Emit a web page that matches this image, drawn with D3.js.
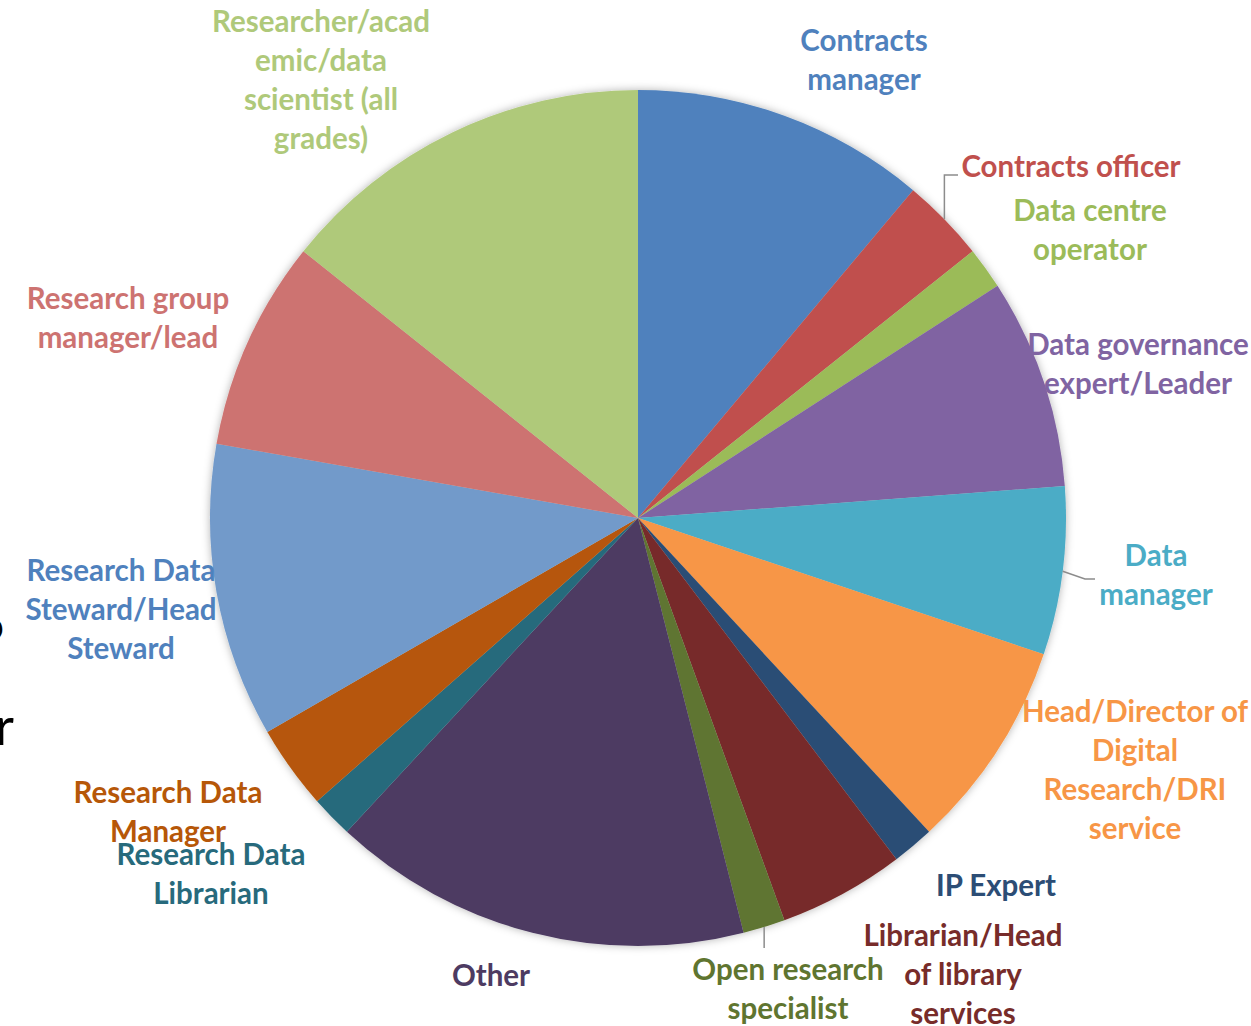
<!DOCTYPE html>
<html>
<head>
<meta charset="utf-8">
<script src="https://cdn.jsdelivr.net/npm/d3@7"></script>
<style>
  body { margin: 0; background: #fff; }
  svg { display: block; }
  .lbl { font-family: Lato, "Open Sans", sans-serif; font-weight: bold; font-size: 29.5px; }
</style>
</head>
<body>
<div id="chart"></div>
<script>
// role categories and number of responses (clockwise from 12 o'clock)
const roles = [
    "Contracts manager", "Contracts officer", "Data centre operator",
    "Data governance expert/Leader", "Data manager", "Head/Director of Digital Research/DRI service",
    "IP Expert", "Librarian/Head of library services", "Open research specialist", "Other",
    "Research Data Librarian", "Research Data Manager", "Research Data Steward/Head Steward",
    "Research group manager/lead", "Researcher/academic/data scientist (all grades)"
];
const counts = [7, 2, 1, 5, 4, 5, 1, 3, 1, 10, 1, 2, 7, 5, 9];
const sliceColors = [
    "#4F81BD", "#C0504D", "#9BBB59", "#8064A2", "#4BACC6", "#F79646",
    "#2C4D75", "#772C2A", "#5F7530", "#4D3B62", "#276A7C", "#B65708",
    "#729ACA", "#CD7371", "#AFC97A"
];
// label text as wrapped on the slide
const labelLines = [
    ["Contracts", "manager"],
    ["Contracts officer"],
    ["Data centre", "operator"],
    ["Data governance", "expert/Leader"],
    ["Data", "manager"],
    ["Head/Director of", "Digital", "Research/DRI", "service"],
    ["IP Expert"],
    ["Librarian/Head", "of library", "services"],
    ["Open research", "specialist"],
    ["Other"],
    ["Research Data", "Librarian"],
    ["Research Data", "Manager"],
    ["Research Data", "Steward/Head", "Steward"],
    ["Research group", "manager/lead"],
    ["Researcher/acad", "emic/data", "scientist (all", "grades)"]
];
const labelColors = [
    "#4F81BD", "#C0504D", "#9BBB59", "#8064A2", "#4BACC6", "#F79646",
    "#2C4D75", "#772C2A", "#5F7530", "#4D3B62", "#276A7C", "#B65708",
    "#4F81BD", "#CD7371", "#AFC97A"
];

const width = 1251, height = 1026;
const cx = 638, cy = 518, radius = 428;
const lineGap = 39;

// where each label block sits (centre x, first line centre y)
const labelPos = [
    [864, 40], [1071, 166], [1090, 210], [1138, 344], [1156, 555], [1135, 711],
    [996, 885], [963, 935], [788, 969], [491, 975], [211, 854], [168, 792],
    [121, 570], [128, 298], [321, 21]
];

const svg = d3.select("#chart")
    .append("svg")
    .attr("width", width)
    .attr("height", height);

const defs = svg.append("defs");
const shadow = defs.append("filter").attr("id", "glow")
    .attr("x", "-10%").attr("y", "-10%").attr("width", "120%").attr("height", "120%");
shadow.append("feDropShadow")
    .attr("dx", 0).attr("dy", 0)
    .attr("stdDeviation", 4)
    .attr("flood-color", "#000")
    .attr("flood-opacity", 0.3);

const data = roles.map((r, i) => ({ role: r, count: counts[i], i: i }));

const pie = d3.pie().sort(null).value(d => d.count);
const arc = d3.arc().innerRadius(0).outerRadius(radius);
const arcs = pie(data);

const g = svg.append("g")
    .attr("transform", "translate(" + cx + "," + cy + ")");

g.append("g")
    .attr("filter", "url(#glow)")
    .selectAll("path")
    .data(arcs)
    .enter()
    .append("path")
    .attr("d", arc)
    .attr("fill", d => sliceColors[d.data.i]);

// leader lines for the labels that sit away from their slice
function edgePoint(d, r) {
    const a = (d.startAngle + d.endAngle) / 2;
    return [cx + r * Math.sin(a), cy - r * Math.cos(a)];
}
const leaders = [
    { i: 1, pts: p => [p, [p[0], 175], [958, 175]] },
    { i: 4, pts: p => [p, [1085, 579], [1095, 579]] },
    { i: 8, pts: p => [p, [p[0], 948]] }
];
leaders.forEach(l => {
    const p = edgePoint(arcs[l.i], radius);
    svg.append("path")
        .attr("d", d3.line()(l.pts(p)))
        .attr("fill", "none")
        .attr("stroke", "#8c8c8c")
        .attr("stroke-width", 1.5);
});

// labels
labelLines.forEach((lines, i) => {
    const t = svg.append("text")
        .attr("class", "lbl")
        .attr("text-anchor", "middle")
        .attr("fill", labelColors[i]);
    lines.forEach((s, k) => {
        t.append("tspan")
            .attr("x", labelPos[i][0])
            .attr("y", labelPos[i][1] + k * lineGap)
            .attr("dy", "0.36em")
            .text(s);
    });
});

// bits of slide text cut off at the left edge
svg.append("text")
    .attr("x", 4).attr("y", 640)
    .attr("text-anchor", "end")
    .style("font-family", "Lato, sans-serif")
    .style("font-size", "40px")
    .attr("fill", "#000")
    .text("o");
svg.append("text")
    .attr("x", -5).attr("y", 745)
    .style("font-family", "Lato, sans-serif")
    .style("font-size", "52px")
    .attr("fill", "#000")
    .text("r");
</script>
</body>
</html>
